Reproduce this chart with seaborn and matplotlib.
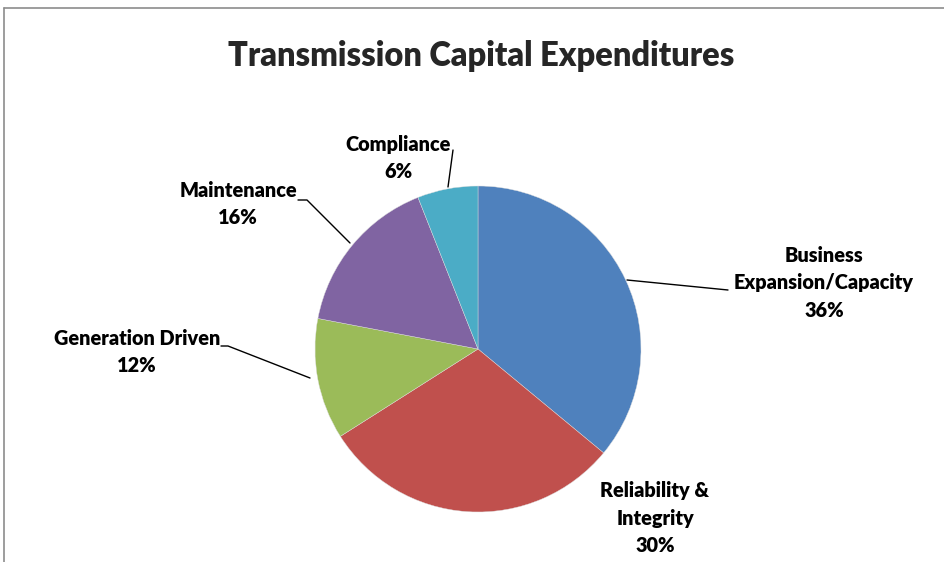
import matplotlib
matplotlib.use("Agg")
import matplotlib.pyplot as plt
import seaborn as sns
from matplotlib.lines import Line2D

categories = ["Business\nExpansion/Capacity", "Reliability &\nIntegrity", "Generation Driven",
              "Maintenance", "Compliance"]
values = [36, 30, 12, 16, 6]
colors = ["#4F81BD", "#C0504D", "#9BBB59", "#8064A2", "#4BACC6"]
title = "Transmission Capital Expenditures"

sns.set_theme(style="white")
plt.rcParams["font.family"] = ["Lato", "DejaVu Sans"]

W, H = 945, 562
fig = plt.figure(figsize=(W / 100, H / 100), dpi=100)
fig.patch.set_facecolor("white")
ax = fig.add_axes([0, 0, 1, 1])

def Y(py):
    return H - py

cx, cy, r = 478, 349, 163
ax.pie(values, colors=sns.color_palette(colors), startangle=90, counterclock=False,
       center=(cx, Y(cy)), radius=r, wedgeprops=dict(linewidth=0.3, edgecolor="#dddddd"),
       frame=True)
ax.set_xlim(0, W)
ax.set_ylim(0, H)
ax.set_aspect("equal")
ax.axis("off")

# labels
label_pos = [(824, 283), (655, 518), (137, 352), (238, 204), (398, 158)]
for cat, v, (lx, ly) in zip(categories, values, label_pos):
    ax.text(lx, Y(ly), f"{cat}\n{v}%", ha="center", va="center", fontsize=14.3,
            fontweight="heavy", linespacing=1.52, color="black")

# leader lines
leaders = [
    [(627, 280), (728, 290)],
    None,
    [(310, 378), (228, 346), (221, 346)],
    [(350, 243), (307, 200), (298, 200)],
    [(448, 187), (453, 150)],
]
for seg in leaders:
    if seg:
        xs = [p[0] for p in seg]
        ys = [Y(p[1]) for p in seg]
        ax.plot(xs, ys, color="black", linewidth=1.0)

ax.text(481, Y(56), title, ha="center", va="center", fontsize=23.5, fontweight="heavy")

# outer frame (top and left edges)
fig.add_artist(Line2D([4 / W, 1], [1 - 8 / H, 1 - 8 / H], color="#8c8c8c", linewidth=1.2))
fig.add_artist(Line2D([4 / W, 4 / W], [0, 1 - 8 / H], color="#8c8c8c", linewidth=1.2))

fig.savefig("out.png", dpi=100)
